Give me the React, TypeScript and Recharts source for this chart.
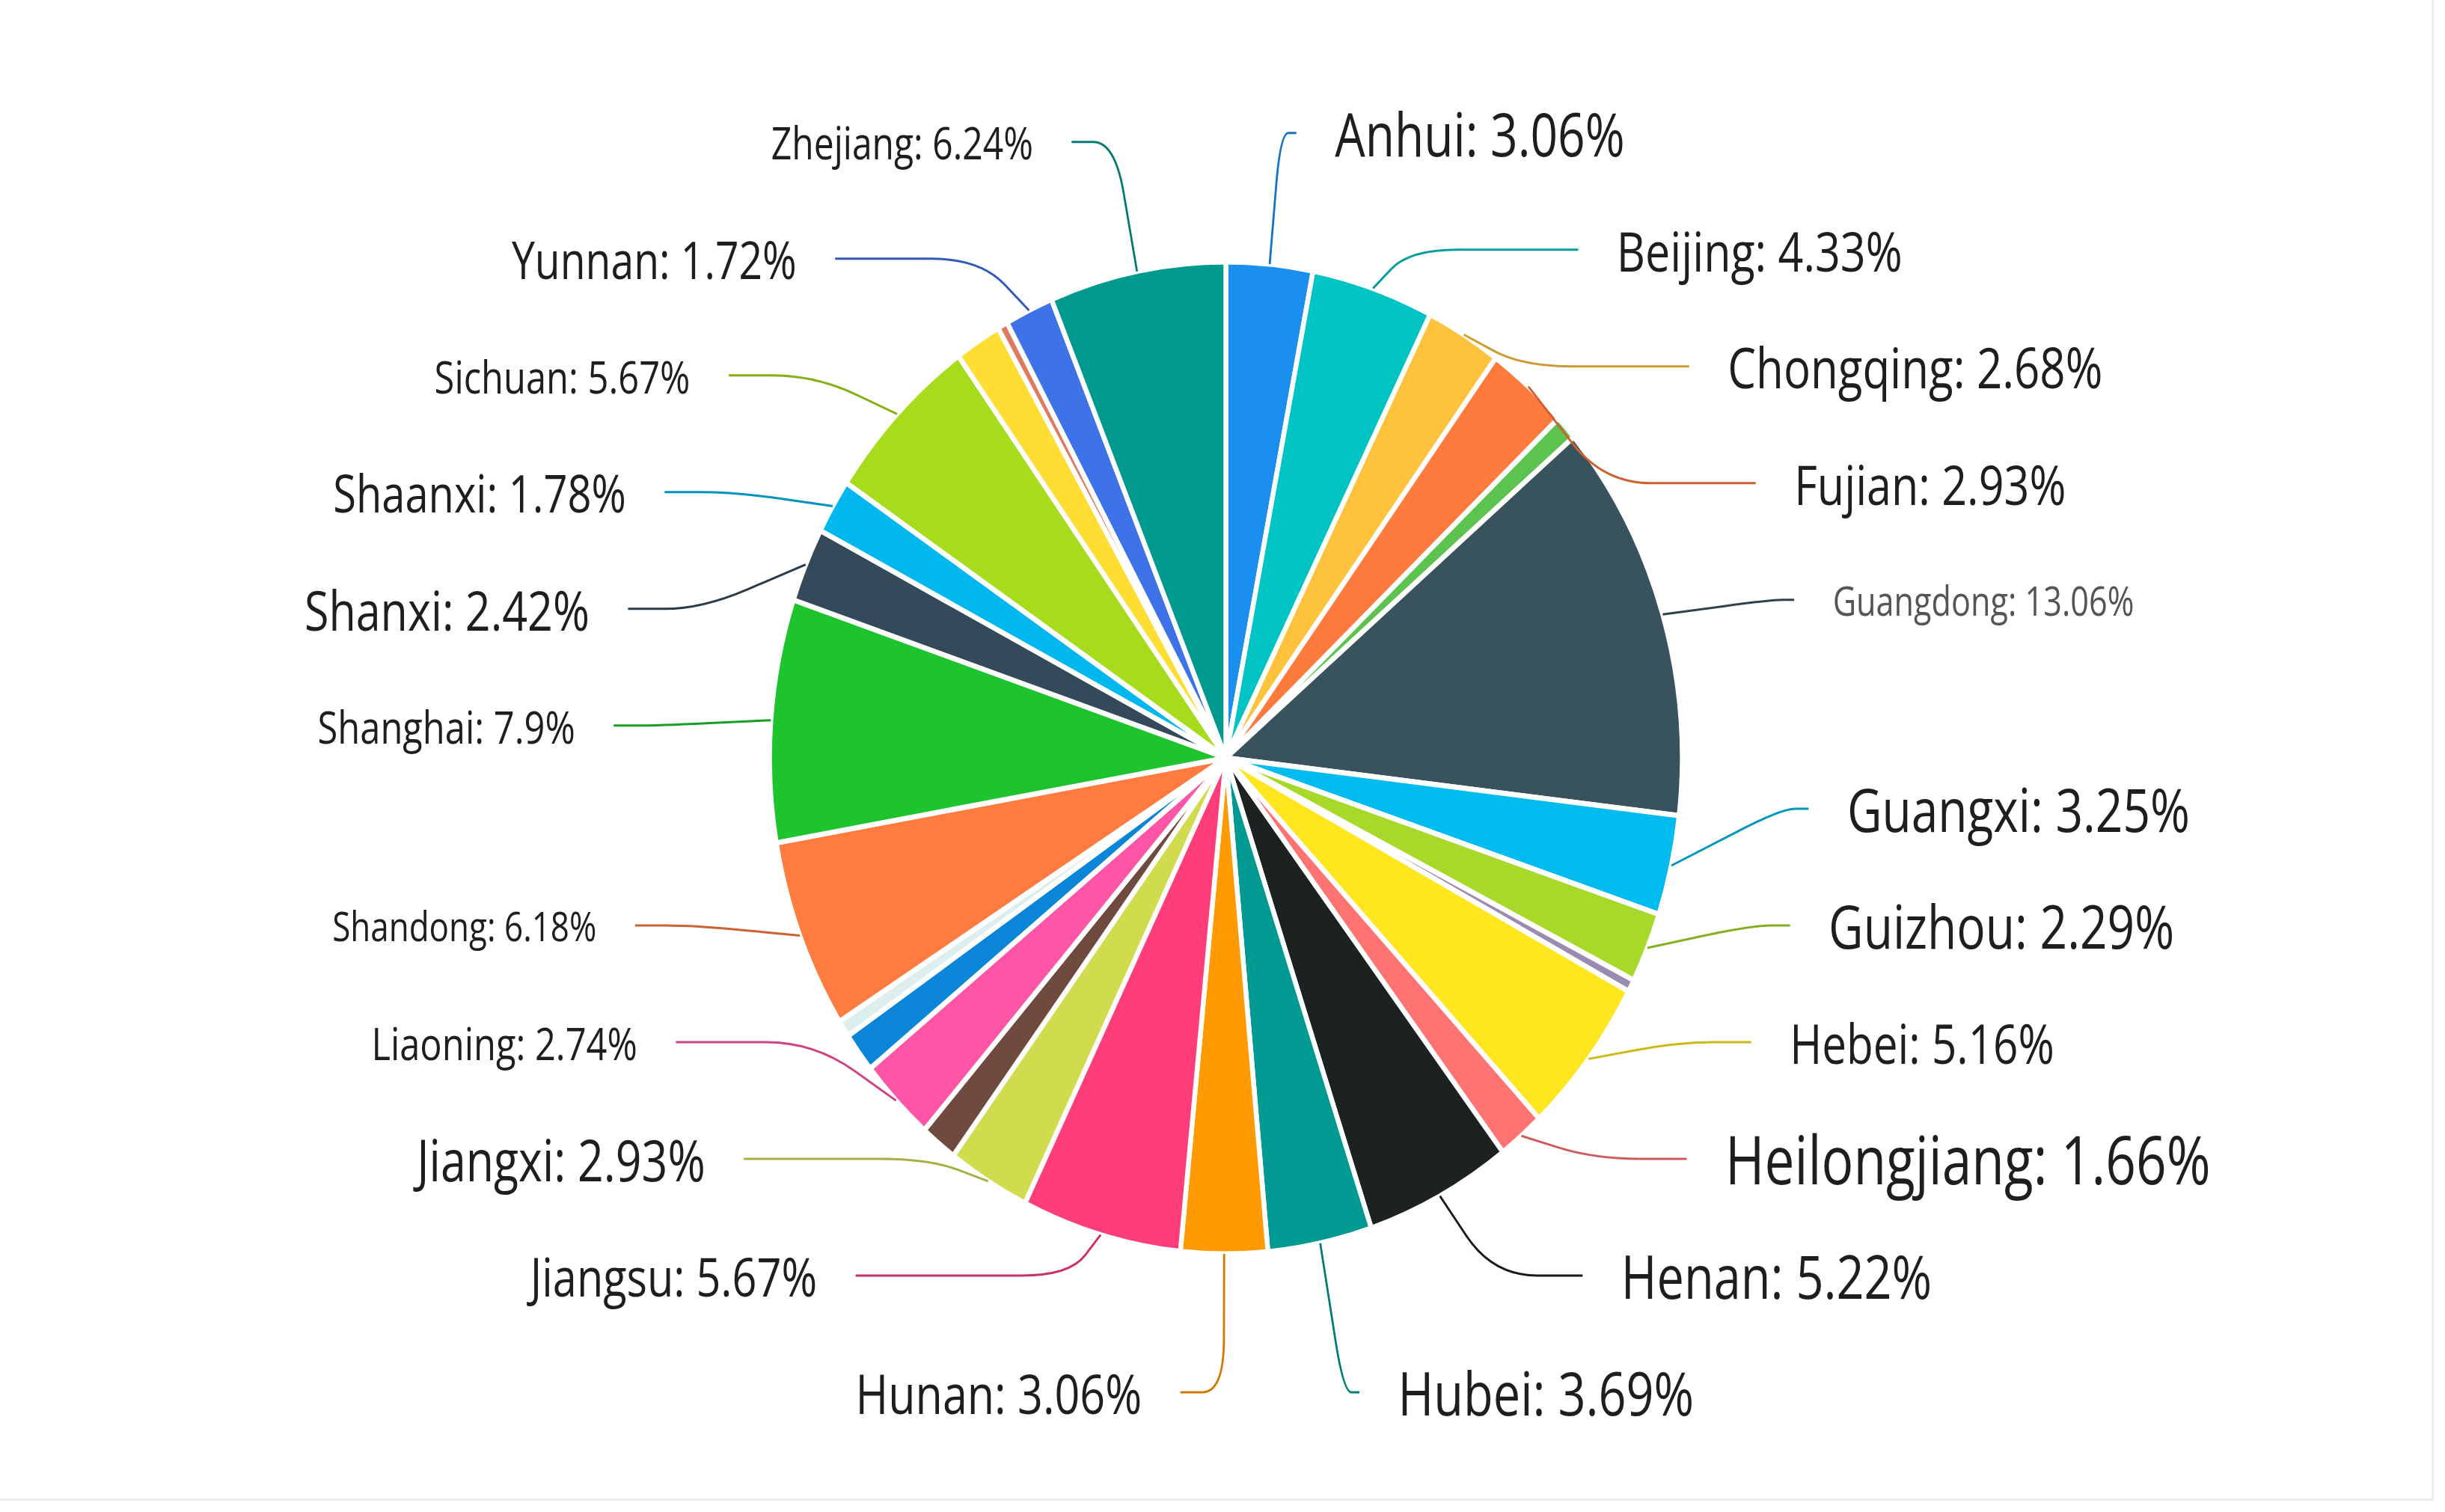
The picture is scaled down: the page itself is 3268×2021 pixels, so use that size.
import { PieChart, Pie, Cell } from 'recharts';

// provinces in drawing order, clockwise from 12 o'clock
const provinces = [
  'Anhui', 'Beijing', 'Chongqing', 'Fujian', 'Gansu', 'Guangdong', 'Guangxi', 'Guizhou',
  'Hainan', 'Hebei', 'Heilongjiang', 'Henan', 'Hubei', 'Hunan', 'Jiangsu', 'Jiangxi',
  'Jilin', 'Liaoning', 'Neimenggu', 'Ningxia', 'Shandong', 'Shanghai', 'Shanxi', 'Shaanxi',
  'Sichuan', 'Tianjin', 'Xinjiang', 'Yunnan', 'Zhejiang',
];

// share of total, %
const shares = [
  3.06, 4.33, 2.68, 2.93, 0.8, 13.06, 3.25, 2.29,
  0.4, 5.16, 1.66, 5.22, 3.69, 3.06, 5.67, 2.93,
  1.3, 2.74, 1.3, 0.55, 6.18, 7.9, 2.42, 1.78,
  5.67, 1.65, 0.36, 1.72, 6.24,
];

// slices drawn without a label
const unlabeled = ['Gansu', 'Hainan', 'Jilin', 'Neimenggu', 'Ningxia', 'Tianjin', 'Xinjiang'];

const sliceColors = [
  '#1a8ff0', '#00c4c4', '#ffc23d', '#ff7a3d', '#5bc34e', '#38525e', '#00bbee', '#a8d92a',
  '#9a8cb0', '#ffe61e', '#ff7373', '#1d2121', '#009a92', '#ff9a00', '#ff3d7a', '#d0dc4e',
  '#6e4b3e', '#ff55a6', '#0a85d8', '#ddeeee', '#ff7b3f', '#1ec42e', '#34495a', '#00b8ee',
  '#a6dc1c', '#ffdd33', '#e07a5f', '#3d72e8', '#00998e',
];

// label text sizes (the source renders them unevenly)
const labelFontSize: Record<string, number> = {
  Zhejiang: 60, Anhui: 80, Yunnan: 69, Beijing: 74, Sichuan: 61, Chongqing: 75,
  Shaanxi: 70, Fujian: 74, Shanxi: 74, Guangdong: 54, Shanghai: 61, Guangxi: 80,
  Shandong: 55, Guizhou: 80, Liaoning: 61, Hebei: 73, Jiangxi: 76, Heilongjiang: 89,
  Jiangsu: 72, Henan: 81, Hunan: 74, Hubei: 81,
};

const data = provinces.map((name, i) => ({ name, value: shares[i] }));

const RAD = Math.PI / 180;
const CHART_W = 3552;
const CHART_H = 2021;
const SQUEEZE = 0.92;
const RADIUS = 663;
const LEN1 = 164; // radial part of the label line
const LEN2 = 79; // horizontal part
const LEFT_EXTRA = 40;
const LINE_GAP = 56;
const ROW_GAP = 156;
const EDGE = 860;
const LIFT = -12;

type Spot = { dy: number; dx: number; lineDx: number; dir: number };

// echarts-like outer label layout: shift rows apart, then put them on an ellipse
function layoutLabels(): Record<number, Spot> {
  const total = shares.reduce((a, b) => a + b, 0);
  const rA = RADIUS + LEN1;
  let acc = 0;
  const items = provinces
    .map((name, i) => {
      const mid = ((acc + shares[i] / 2) / total) * 360;
      acc += shares[i];
      const nx = rA * Math.sin(mid * RAD);
      const ny = -rA * Math.cos(mid * RAD);
      return { i, name, nx, ny, y: ny, dir: nx >= 0 ? 1 : -1 };
    })
    .filter((d) => !unlabeled.includes(d.name));

  const out: Record<number, Spot> = {};
  [1, -1].forEach((dir) => {
    const side = items.filter((d) => d.dir === dir).sort((a, b) => a.ny - b.ny);
    const n = side.length;
    for (let k = 1; k < n; k++) side[k].y = Math.max(side[k].y, side[k - 1].y + ROW_GAP);
    side[n - 1].y = Math.min(side[n - 1].y, EDGE);
    for (let k = n - 2; k >= 0; k--) side[k].y = Math.min(side[k].y, side[k + 1].y - ROW_GAP);
    side[0].y = Math.max(side[0].y, -EDGE);
    for (let k = 1; k < n; k++) side[k].y = Math.max(side[k].y, side[k - 1].y + ROW_GAP);

    const len2 = dir > 0 ? LEN2 : LEN2 + LEFT_EXTRA;
    [side.filter((d) => d.y < 0), side.filter((d) => d.y >= 0)].forEach((semi) => {
      if (!semi.length) return;
      const ext = semi.reduce((a, b) => (Math.abs(b.y) > Math.abs(a.y) ? b : a));
      const ex = Math.abs(ext.nx);
      const ey = Math.abs(ext.y);
      const rB = ex < rA ? Math.sqrt((ey * ey) / (1 - (ex * ex) / (rA * rA))) : rA;
      semi.forEach((d) => {
        const e = Math.sqrt(Math.max(0, 1 - (d.y * d.y) / (rB * rB))) * rA;
        out[d.i] = {
          dy: d.y + LIFT,
          dx: dir * (e + len2),
          lineDx: dir * (e + len2 - LINE_GAP),
          dir,
        };
      });
    });
  });
  return out;
}

const spots = layoutLabels();

const shade = (hex: string, f: number) => {
  const n = parseInt(hex.slice(1), 16);
  const r = Math.round(((n >> 16) & 255) * f);
  const g = Math.round(((n >> 8) & 255) * f);
  const b = Math.round((n & 255) * f);
  return `rgb(${r},${g},${b})`;
};

const renderLabel = (props: any) => {
  const { cx, cy, midAngle, outerRadius, index, name, value } = props;
  const spot = spots[index];
  if (!spot) return <g key={`l-${index}`} />;
  const a = -midAngle * RAD;
  const p0 = [cx + outerRadius * Math.cos(a), cy + outerRadius * Math.sin(a)];
  const p1 = [cx + (outerRadius + LEN1) * Math.cos(a), cy + spot.dy];
  const p2 = [cx + spot.lineDx, cy + spot.dy];
  const l1 = Math.hypot(p0[0] - p1[0], p0[1] - p1[1]) || 1;
  const l2 = Math.hypot(p2[0] - p1[0], p2[1] - p1[1]) || 1;
  const t1 = Math.min(0.5, 70 / l1);
  const t2 = Math.min(0.5, 70 / l2);
  const qa = [p1[0] + (p0[0] - p1[0]) * t1, p1[1] + (p0[1] - p1[1]) * t1];
  const qb = [p1[0] + (p2[0] - p1[0]) * t2, p1[1] + (p2[1] - p1[1]) * t2];
  const d = `M${p0[0]},${p0[1]} L${qa[0]},${qa[1]} Q${p1[0]},${p1[1]} ${qb[0]},${qb[1]} L${p2[0]},${p2[1]}`;
  const tx = cx + spot.dx;
  const ty = cy + spot.dy;
  return (
    <g key={`l-${index}`}>
      <path d={d} fill="none" stroke={shade(sliceColors[index], 0.8)} strokeWidth={3} />
      <text
        transform={`translate(${tx},${ty}) scale(0.87,1)`}
        textAnchor={spot.dir > 0 ? 'start' : 'end'}
        dominantBaseline="central"
        fontFamily="'Open Sans', 'Noto Sans', sans-serif"
        fontWeight={500}
        fontSize={labelFontSize[name] || 70}
        fill={name === 'Guangdong' ? '#555' : '#1e1e1e'}
      >
        {`${name}: ${value}%`}
      </text>
    </g>
  );
};

export default function App() {
  return (
    <div
      style={{
        position: 'absolute',
        left: 0,
        top: 0,
        width: 3268,
        height: 2021,
        background: '#fff',
        overflow: 'hidden',
      }}
    >
      <div style={{ position: 'absolute', left: 3250, top: 0, width: 3, height: 2006, background: '#ececec' }} />
      <div style={{ position: 'absolute', left: 0, top: 2003, width: 3253, height: 3, background: '#ececec' }} />
      <div style={{ width: CHART_W, height: CHART_H, transform: `scaleX(${SQUEEZE})`, transformOrigin: '0 0' }}>
        <PieChart width={CHART_W} height={CHART_H}>
          <Pie
            data={data}
            dataKey="value"
            nameKey="name"
            cx={1776}
            cy={1008}
            outerRadius={RADIUS}
            startAngle={90}
            endAngle={-270}
            stroke="#fff"
            strokeWidth={7}
            label={renderLabel}
            labelLine={false}
            isAnimationActive={false}
          >
            {data.map((d, i) => (
              <Cell key={d.name} fill={sliceColors[i]} />
            ))}
          </Pie>
        </PieChart>
      </div>
    </div>
  );
}
